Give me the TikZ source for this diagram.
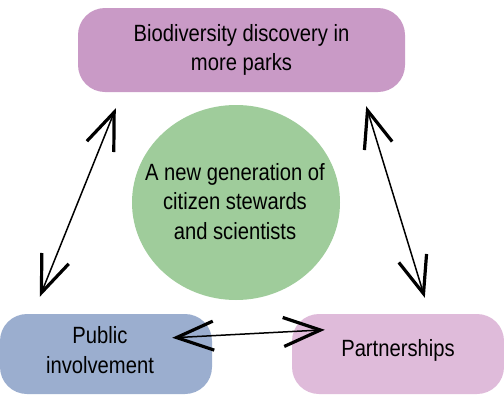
\documentclass[tikz,border=0pt]{standalone}
\usepackage{fontspec}
\setmainfont{Liberation Sans}[FakeStretch=0.86]
\usepackage{xcolor}
\usetikzlibrary{calc,shapes.geometric,arrows.meta}
\definecolor{topfill}{HTML}{C99AC6}
\definecolor{midfill}{HTML}{9FCC9B}
\definecolor{pubfill}{HTML}{9BAECF}
\definecolor{partfill}{HTML}{DFBBDA}
\begin{document}
\begin{tikzpicture}[x=1pt,y=-1pt,
box/.style={rounded corners=27pt,inner sep=0,font=\fontsize{23.5}{29.5}\selectfont,align=center},
hub/.style={ellipse,inner sep=0,minimum width=208pt,minimum height=195pt},
lab/.style={font=\fontsize{23.5}{29.5}\selectfont,align=center,inner sep=0},
link/.style={line width=1.5pt,{Straight Barb[length=37pt,width=29pt,line width=3.2pt]}-{Straight Barb[length=37pt,width=29pt,line width=3.2pt]}}]
	\useasboundingbox (0,0) rectangle (504,410);
	\node[box,fill=topfill,minimum width=327pt,minimum height=84pt] at (241.5,50) (bio) {Biodiversity discovery in\\more parks};
	\node[hub,fill=midfill] at (236,202.5) (gen) {};
	\node[box,fill=pubfill,minimum width=212pt,minimum height=80pt] at (106,354) (pub) {};
	\node[box,fill=partfill,minimum width=212pt,minimum height=80pt] at (398,354) (part) {};
	\node[lab] at ([xshift=-1pt,yshift=1pt]gen.center) (genlab) {A new generation of\\citizen stewards\\and scientists};
	\node[lab] at ([xshift=-6pt,yshift=4pt]pub.center) (publab) {Public\\involvement};
	\node[lab] at ([yshift=3.5pt]part.center) (partlab) {Partnerships};

	%ends of the arrows
	\coordinate (bl) at ($(bio.south west)+(38,16)$);
	\coordinate (br) at ($(bio.south east)+(-39,14)$);
	\coordinate (pt) at ($(pub.north west)+(40,-17)$);
	\coordinate (pr) at ($(pub.north east)+(-40,24)$);
	\coordinate (qt) at ($(part.north west)+(133,-16)$);
	\coordinate (ql) at ($(part.north west)+(33,16)$);

	\draw[link] (bl) -- (pt);
	\draw[link] (br) -- (qt);
	\draw[link] (pr) -- (ql);
\end{tikzpicture}
\end{document}
